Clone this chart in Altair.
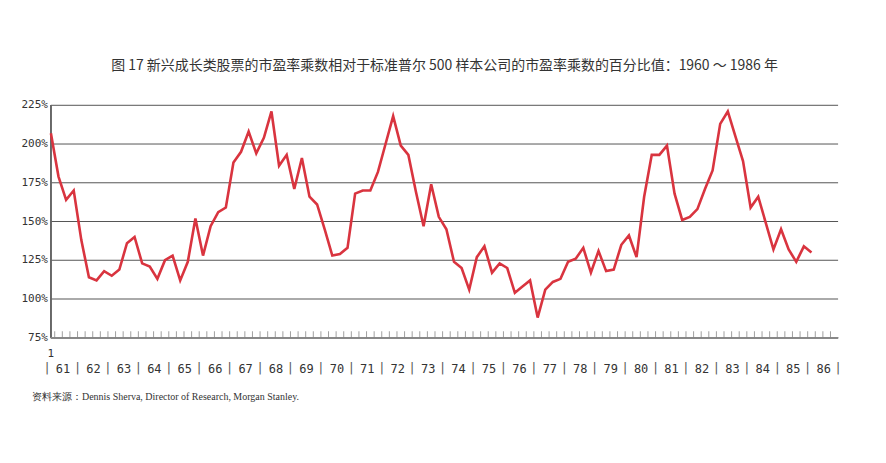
import altair as alt
import pandas as pd

# quarterly values, 1961Q1 .. 1986Q1 (percent)
ratio = [
    207, 179, 164, 170, 138, 114, 112, 118, 115, 119, 136, 140, 123, 121, 113, 125,
    128, 112, 124, 152, 128, 147, 156, 159, 188, 195, 208, 194, 204, 221, 186, 193,
    171, 191, 166, 161, 145, 128, 129, 133, 168, 170, 170, 182, 200, 218, 199, 193,
    169, 147, 174, 153, 145, 124, 120, 106, 127, 134, 117, 123, 120, 104, 108, 112,
    88, 106, 111, 113, 124, 126, 133, 117, 131, 118, 119, 135, 141, 127, 166, 193,
    193, 199, 168, 151, 153, 158, 171, 183, 213, 221, 205, 189, 159, 166, 149, 132,
    145, 132, 124, 134, 130,
]
years = [f"{y:02d}" for y in range(61, 87)]
grid_levels = [100, 125, 150, 175, 200, 225]
y_labels = [75] + grid_levels

title = "图 17    新兴成长类股票的市盈率乘数相对于标准普尔 500 样本公司的市盈率乘数的百分比值：1960 ～ 1986 年"
source = "资料来源：Dennis Sherva, Director of Research, Morgan Stanley."

line_df = pd.DataFrame({"q": range(len(ratio)), "v": ratio})
year_df = pd.DataFrame({"q": [4 * i + 1.6 for i in range(len(years))], "label": years})
sep_df = pd.DataFrame({"q": [4 * i - 0.5 for i in range(len(years) + 1)], "label": "|"})
tick_df = pd.DataFrame({"q": [i + 0.5 for i in range(103)]})
grid_df = pd.DataFrame({"v": grid_levels})
ylab_df = pd.DataFrame({"v": y_labels, "label": [f"{v}%" for v in y_labels]})

xs = alt.Scale(domain=[0, 103.5], nice=False, zero=False)
ys = alt.Scale(domain=[75, 225], nice=False, zero=False)
serif = "Liberation Serif"
mono = "DejaVu Sans Mono"

grid = alt.Chart(grid_df).mark_rule(color="#555", strokeWidth=1).encode(
    y=alt.Y("v:Q", scale=ys, axis=None), x=alt.value(0), x2=alt.value(789))
yaxis = alt.Chart(grid_df).mark_rule(color="#666", strokeWidth=1).encode(
    x=alt.value(0), y=alt.Y(datum=75, scale=ys, axis=None), y2=alt.datum(225))
ylabels = alt.Chart(ylab_df).mark_text(font=mono, fontSize=11, color="#333",
                                       align="right", dx=-3).encode(
    x=alt.value(0), y=alt.Y("v:Q", scale=ys, axis=None), text="label:N")
base_line = alt.Chart(grid_df).mark_rule(color="#888", strokeWidth=1.5).encode(
    y=alt.Y(datum=75, scale=ys, axis=None), x=alt.value(0), x2=alt.value(789))
ticks = alt.Chart(tick_df).mark_tick(color="#777", thickness=1, size=6).encode(
    x=alt.X("q:Q", scale=xs, axis=None), y=alt.Y(datum=77.3, scale=ys, axis=None))
line = alt.Chart(line_df).mark_line(color="#d9343f", strokeWidth=2.6).encode(
    x=alt.X("q:Q", scale=xs, axis=None), y=alt.Y("v:Q", scale=ys, axis=None))
xlab = alt.Chart(year_df).mark_text(font=mono, fontSize=12, color="#333").encode(
    x=alt.X("q:Q", scale=xs), y=alt.value(264), text="label:N")
seps = alt.Chart(sep_df).mark_text(font=mono, fontSize=12, color="#555").encode(
    x=alt.X("q:Q", scale=xs), y=alt.value(263), text="label:N")
one = alt.Chart(pd.DataFrame({"q": [0], "label": ["1"]})).mark_text(
    font=mono, fontSize=11, color="#333").encode(
    x=alt.X("q:Q", scale=xs), y=alt.value(249), text="label:N")
src = alt.Chart(pd.DataFrame({"t": [source]})).mark_text(
    font=serif, fontSize=10, color="#333", align="left").encode(
    x=alt.value(-19), y=alt.value(292), text="t:N")

chart = (grid + yaxis + ylabels + base_line + ticks + line + xlab + seps + one + src).properties(
    width=789, height=233,
    autosize=alt.AutoSizeParams(type="none"),
    padding={"left": 43, "top": 97, "right": 40, "bottom": 110},
    title=alt.TitleParams(title, font="Noto Sans CJK SC", fontSize=14, fontWeight="normal",
                          color="#333", anchor="middle", offset=26),
    background="white",
).configure_view(stroke=None)

chart.save("out.html", embed_options={"renderer": "svg", "actions": False})
